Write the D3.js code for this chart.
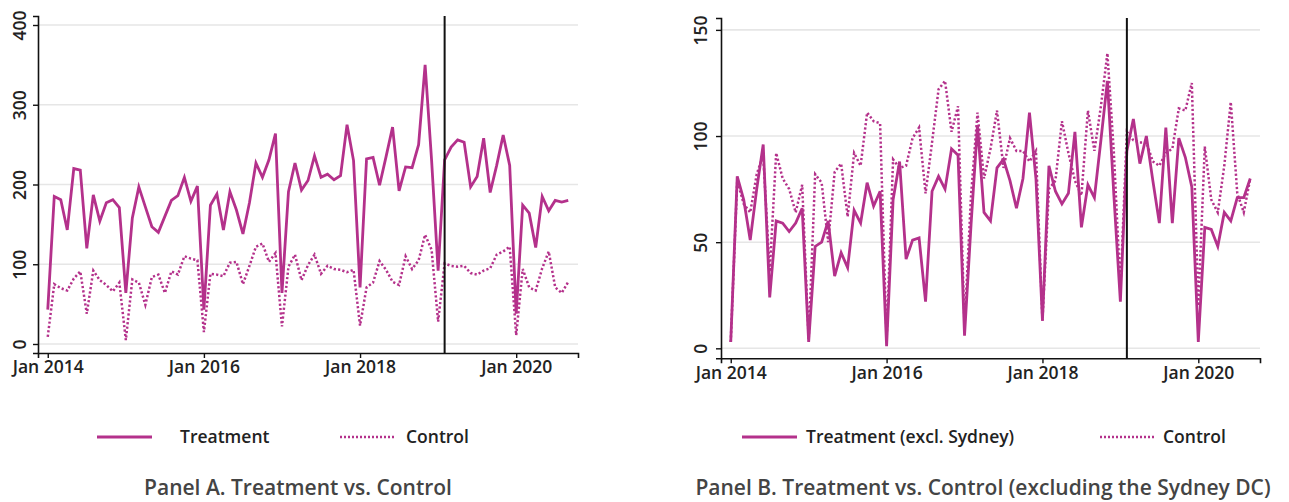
<!DOCTYPE html>
<html>
<head>
<meta charset="utf-8">
<script src="https://cdn.jsdelivr.net/npm/d3@7"></script>
<style>
body{margin:0;background:#fff;}
text{font-family:"Open Sans",sans-serif;}
</style>
</head>
<body>
<div id="svg-container"></div>
<script>
// months since Jan 2014, 0..80 (Jan 2014 - Sep 2020)
var treatA = [43,185,181,143,220,218,120,187,154,177,
  181,171,64,158,197,172,147,140,160,180,
  186,209,179,198,43,174,188,143,191,168,
  138,177,227,209,231,264,64,191,227,193,
  205,236,209,213,206,211,275,230,71,232,
  234,199,235,272,192,222,221,250,350,230,
  92,231,247,256,253,197,210,258,190,224,
  262,224,38,174,164,121,185,167,180,178,180];
var ctrlA = [9,75,70,67,82,91,38,92,80,74,
  66,77,5,81,77,49,84,87,64,91,
  87,110,107,105,15,88,87,85,102,103,
  75,98,122,126,103,114,22,97,112,80,
  99,112,88,98,94,93,90,93,23,71,
  77,104,93,78,74,110,94,105,137,118,
  28,101,98,97,98,89,87,92,95,112,
  116,122,11,94,71,67,95,116,71,64,78];
var treatB = [3,81,70,51,75,96,24,60,59,55,
  59,66,3,48,50,60,34,45,38,65,
  59,78,67,74,1,70,88,42,51,52,
  22,74,81,75,94,91,6,58,105,64,
  60,85,89,79,66,80,111,80,13,86,
  74,68,73,102,57,77,71,98,126,72,
  22,93,108,87,100,79,59,104,59,99,
  90,76,3,57,56,48,64,60,71,71,80];
var ctrlB = [3,79,68,64,82,91,36,92,80,75,
  64,77,4,82,78,50,83,87,62,92,
  86,111,107,106,4,89,85,86,99,104,
  73,97,122,126,102,114,10,72,111,80,
  94,112,85,99,93,93,88,93,13,75,
  79,107,92,79,72,112,93,114,139,92,
  28,102,98,97,97,88,86,92,94,113,
  112,125,20,95,70,64,86,116,73,64,80];
var xTicks = [0,24,48,72];
var xTickLabels = ["Jan 2014","Jan 2016","Jan 2018","Jan 2020"];
var yTicksA = [0,100,200,300,400];
var yTicksB = [0,50,100,150];
var breakMonth = 61; // Feb 2019
var legendA = ["Treatment","Control"];
var legendB = ["Treatment (excl. Sydney)","Control"];
var titleA = "Panel A. Treatment vs. Control";
var titleB = "Panel B. Treatment vs. Control (excluding the Sydney DC)";

var col = "#b4318b";
var svg = d3.select("#svg-container").append("svg").attr("width",1289).attr("height",502);

function panel(o){
  var x = d3.scaleLinear().domain([-1.5,81.5]).range([o.x0,o.x1]);
  var y = d3.scaleLinear().domain(o.yDom).range([o.y0,o.y1]);
  var g = svg.append("g");

  // grid
  g.selectAll(".grid").data(o.yTicks).enter().append("line")
    .attr("x1",o.x0).attr("x2",o.x1)
    .attr("y1",function(d){return y(d);}).attr("y2",function(d){return y(d);})
    .attr("stroke","#e6e6e6").attr("stroke-width",1.6);

  var line = d3.line().x(function(d,i){return x(i);}).y(function(d){return y(d);});
  g.append("path").datum(o.ctrl).attr("d",line).attr("fill","none")
    .attr("stroke",col).attr("stroke-width",2.5).attr("stroke-dasharray","2.2,2.2");
  g.append("path").datum(o.treat).attr("d",line).attr("fill","none")
    .attr("stroke",col).attr("stroke-width",2.8);

  // break line
  g.append("line").attr("x1",x(breakMonth)).attr("x2",x(breakMonth))
    .attr("y1",o.y1).attr("y2",o.y0).attr("stroke","#111").attr("stroke-width",2);

  var ax = g.append("g").attr("transform","translate(0,"+o.y0+")")
    .call(d3.axisBottom(x).tickValues(xTicks).tickSize(5).tickPadding(3)
      .tickFormat(function(d,i){return xTickLabels[i];}));
  var ay = g.append("g").attr("transform","translate("+o.x0+",0)")
    .call(d3.axisLeft(y).tickValues(o.yTicks).tickSize(5).tickPadding(6));
  [ax,ay].forEach(function(a){
    a.select(".domain").attr("stroke","#111").attr("stroke-width",1.6);
    a.selectAll(".tick line").attr("stroke","#111").attr("stroke-width",1.4);
    a.selectAll("text").attr("fill","#222").style("font-size","17.5px").style("font-weight",600);
  });
  ay.selectAll(".tick text").attr("text-anchor","middle")
    .attr("transform","translate("+(-o.yLab)+",0) rotate(-90)")
    .attr("x",0).attr("dy","0");

  // legend
  var ly = 437;
  g.append("line").attr("x1",o.leg[0]).attr("x2",o.leg[0]+55).attr("y1",ly).attr("y2",ly)
    .attr("stroke",col).attr("stroke-width",2.8);
  g.append("text").attr("x",o.leg[1]).attr("y",ly+6).text(o.legText[0])
    .attr("fill","#222").style("font-size","17.5px").style("font-weight",600);
  g.append("line").attr("x1",o.leg[2]).attr("x2",o.leg[2]+55).attr("y1",ly).attr("y2",ly)
    .attr("stroke",col).attr("stroke-width",2.3).attr("stroke-dasharray","2,2");
  g.append("text").attr("x",o.leg[3]).attr("y",ly+6).text(o.legText[1])
    .attr("fill","#222").style("font-size","17.5px").style("font-weight",600);

  g.append("text").attr("x",o.tx).attr("y",495).attr("text-anchor","middle").text(o.title)
    .attr("fill","#444").style("font-size","21px").style("font-weight",600);
}

panel({x0:38,x1:578,y0:353,y1:16,yDom:[-11.3,411.3],yTicks:yTicksA,yLab:12,
  treat:treatA,ctrl:ctrlA,leg:[97,180,340,406],legText:legendA,tx:298,title:titleA});
panel({x0:721,x1:1260,y0:358.3,y1:18,yDom:[-4.7,155.6],yTicks:yTicksB,yLab:14,
  treat:treatB,ctrl:ctrlB,leg:[742,806,1100,1163],legText:legendB,tx:983,title:titleB});
</script>
</body>
</html>
